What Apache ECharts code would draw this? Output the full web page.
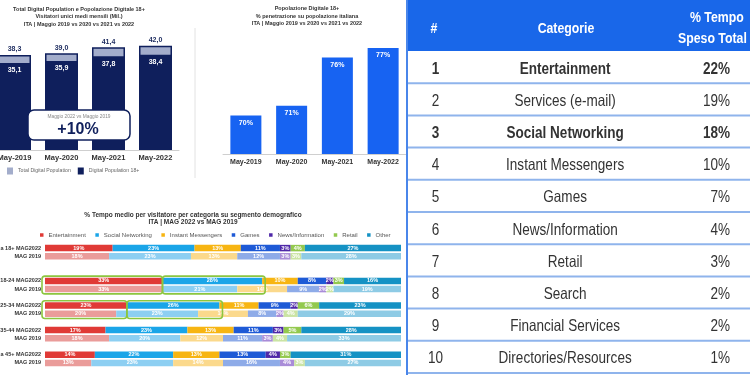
<!DOCTYPE html>
<html><head><meta charset="utf-8">
<script src="https://cdn.jsdelivr.net/npm/echarts@6/dist/echarts.min.js"></script>
<style>html,body{margin:0;padding:0;background:#fff}#c{width:750px;height:375px}</style>
</head><body><div id="c"></div>
<script>
// ---------- DATA ----------
const years = ['May-2019', 'May-2020', 'May-2021', 'May-2022'];
const totalDigital = [38.3, 39.0, 41.4, 42.0];
const digital18 = [35.1, 35.9, 37.8, 38.4];
const penetration = [70, 71, 76, 77];

const demoRowLabels = ['a 18+ MAG2022', 'MAG 2019', '18-24 MAG2022', 'MAG 2019', '25-34 MAG2022', 'MAG 2019', '35-44 MAG2022', 'MAG 2019', 'a 45+ MAG2022', 'MAG 2019'];
const catNames = ['Entertainment', 'Social Networking', 'Instant Messengers', 'Games', 'News/Information', 'Retail', 'Other'];
const entertainment = [19, 18, 33, 33, 23, 20, 17, 18, 14, 13];
const socialNetworking = [23, 23, 28, 21, 26, 23, 23, 20, 22, 23];
const instantMessengers = [13, 13, 10, 14, 11, 14, 13, 12, 13, 14];
const games = [11, 12, 8, 9, 9, 8, 11, 11, 13, 16];
const newsInfo = [3, 3, 2, 2, 2, 2, 3, 3, 4, 4];
const retail = [4, 3, 3, 2, 6, 4, 5, 4, 3, 3];
const other = [27, 28, 16, 19, 23, 29, 28, 33, 31, 27];

const tableHeaders = ['#', 'Categorie', '% Tempo', 'Speso Total'];
const tableRank = ['1', '2', '3', '4', '5', '6', '7', '8', '9', '10'];
const tableCategories = ['Entertainment', 'Services (e-mail)', 'Social Networking', 'Instant Messengers', 'Games', 'News/Information', 'Retail', 'Search', 'Financial Services', 'Directories/Resources'];
const tableShare = [22, 19, 18, 10, 7, 4, 3, 2, 2, 1];

// ---------- STYLE / LAYOUT ----------
const FONT = "'Liberation Sans', Arial, Helvetica, sans-serif";
const NAVY = '#0F1F5C';
const NARROW_SCALE = 0.82;
const darkCols = ['#E03A36', '#1AA5E8', '#F7B512', '#1E5AD6', '#4F28A8', '#93C94E', '#1592C4'];
const lightCols = ['#EA9C9A', '#8DCFF2', '#FBD98C', '#8EABE8', '#A98CD8', '#CBE4A4', '#8ECBE5'];
const segSeries = [entertainment, socialNetworking, instantMessengers, games, newsInfo, retail, other];
const slotPattern = [0, 1, null, null, 2, 3, null, 4, 5, null, 6, 7, null, 8, 9];
const boldCats = ['Entertainment', 'Social Networking'];
const highlightGroups = [2, 4];

const fmtComma = v => v.toFixed(1).replace('.', ',');

const chart = echarts.init(document.getElementById('c'), null, { renderer: 'canvas' });

const stackSeries = catNames.map((name, ci) => ({
  name, type: 'bar', stack: 'seg', xAxisIndex: 2, yAxisIndex: 2, barWidth: 6.5,
  itemStyle: { color: darkCols[ci] },
  label: { show: true, position: 'inside', formatter: p => p.value + '%', fontSize: 5.5, fontWeight: 'bold', color: '#fff', fontFamily: FONT },
  data: slotPattern.map(k => k === null ? '-' : (k % 2 === 1 ? { value: segSeries[ci][k], itemStyle: { color: lightCols[ci] } } : segSeries[ci][k]))
}));

function narrowText(x, y, text, align, bold, fill) {
  return { type: 'text', x, y, scaleX: NARROW_SCALE, z: 100,
    style: { text, align, verticalAlign: 'middle', fontSize: 16.5, fontFamily: FONT, fontWeight: bold ? 'bold' : 'normal', fill } };
}

function renderTableRow(params, api) {
  const i = api.value(1);
  const cs = params.coordSys;
  const yc = api.coord([0, i])[1];
  const rowH = cs.height / tableRank.length;
  const bold = boldCats.includes(tableCategories[i]);
  const ty = yc + 2;
  return {
    type: 'group', children: [
      { type: 'line', shape: { x1: cs.x, y1: yc + rowH / 2, x2: cs.x + cs.width, y2: yc + rowH / 2 }, style: { stroke: '#8FB4EC', lineWidth: 2 } },
      narrowText(cs.x + cs.width * 0.083, ty, tableRank[i], 'center', bold, '#333'),
      narrowText(cs.x + cs.width * 0.461, ty, tableCategories[i], 'center', bold, '#333'),
      narrowText(cs.x + cs.width * 0.942, ty, tableShare[i] + '%', 'right', bold, '#333')
    ]
  };
}

const option = {
  animation: false,
  backgroundColor: '#fff',
  textStyle: { fontFamily: FONT },
  title: [
    { text: 'Total Digital Population e Popolazione Digitale 18+\nVisitatori unici medi mensili (Mil.)\nITA | Maggio 2019 vs 2020 vs 2021 vs 2022', left: 79, top: 5.3, textAlign: 'center', padding: 0, textStyle: { fontSize: 5.5, lineHeight: 7.5, fontWeight: 'bold', color: '#333', fontFamily: FONT } },
    { text: 'Popolazione Digitale 18+\n% penetrazione su popolazione italiana\nITA | Maggio 2019 vs 2020 vs 2021 vs 2022', left: 307, top: 5.3, textAlign: 'center', padding: 0, textStyle: { fontSize: 5.5, lineHeight: 7.2, fontWeight: 'bold', color: '#333', fontFamily: FONT } },
    { text: '% Tempo medio per visitatore per categoria su segmento demografico\nITA | MAG 2022 vs MAG 2019', left: 193, top: 211.2, textAlign: 'center', padding: 0, textStyle: { fontSize: 6.5, lineHeight: 7.5, fontWeight: 'bold', color: '#333', fontFamily: FONT } }
  ],
  legend: [
    { data: ['Total Digital Population', 'Digital Population 18+'], left: 7, top: 167.5, itemWidth: 6, itemHeight: 7, itemGap: 7, icon: 'rect', padding: 0, itemStyle: { borderWidth: 0 }, textStyle: { fontSize: 5.2, color: '#666', fontFamily: FONT } },
    { data: catNames, left: 40, top: 232, itemWidth: 3.5, itemHeight: 3.5, itemGap: 9.5, icon: 'rect', padding: 0, textStyle: { fontSize: 6, color: '#555', fontFamily: FONT } }
  ],
  grid: [
    { left: -9, top: 26, width: 188, height: 124, outerBoundsMode: 'none', containLabel: false },
    { left: 223, top: 19, width: 183, height: 135, outerBoundsMode: 'none', containLabel: false },
    { left: 45, top: 244, width: 356, height: 123, outerBoundsMode: 'none', containLabel: false },
    { left: 407, top: 51, width: 343, height: 322, outerBoundsMode: 'none', containLabel: false }
  ],
  xAxis: [
    { type: 'category', gridIndex: 0, data: years, axisLine: { lineStyle: { color: '#cfcfcf' } }, axisTick: { show: false }, axisLabel: { fontSize: 7.5, fontWeight: 'bold', color: '#333', margin: 4 } },
    { type: 'category', gridIndex: 1, data: years, axisLine: { lineStyle: { color: '#cfcfcf' } }, axisTick: { show: false }, axisLabel: { fontSize: 7, fontWeight: 'bold', color: '#333', margin: 5 } },
    { type: 'value', gridIndex: 2, min: 0, max: 100, show: false },
    { type: 'value', gridIndex: 3, min: 0, max: 1, show: false }
  ],
  yAxis: [
    { type: 'value', gridIndex: 0, min: 0, max: 50, show: false },
    { type: 'value', gridIndex: 1, min: 66, max: 80, show: false },
    { type: 'category', gridIndex: 2, inverse: true, data: slotPattern.map((k, i) => 's' + i),
      axisLine: { show: false }, axisTick: { show: false },
      axisLabel: { interval: 0, fontSize: 5.5, fontWeight: 'bold', color: '#333', margin: 4, formatter: (v, i) => slotPattern[i] === null ? '' : demoRowLabels[slotPattern[i]] } },
    { type: 'category', gridIndex: 3, inverse: true, data: tableRank, show: false }
  ],
  series: [
    { name: 'Total Digital Population', type: 'bar', xAxisIndex: 0, yAxisIndex: 0, barWidth: 33, barGap: '-100%', data: totalDigital,
      itemStyle: { color: '#A3ADCB', borderColor: NAVY, borderWidth: 1.5 },
      label: { show: true, position: 'top', distance: 2, formatter: p => fmtComma(p.value), fontSize: 7, fontWeight: 'bold', color: '#1B2A5E' } },
    { name: 'Digital Population 18+', type: 'bar', xAxisIndex: 0, yAxisIndex: 0, barWidth: 33, barGap: '-100%', data: digital18,
      itemStyle: { color: NAVY },
      label: { show: true, position: 'insideTop', distance: 4, formatter: p => fmtComma(p.value), fontSize: 7, fontWeight: 'bold', color: '#fff' } },
    { name: 'Popolazione Digitale 18+', type: 'bar', xAxisIndex: 1, yAxisIndex: 1, barWidth: 31, data: penetration,
      itemStyle: { color: '#1763F2' },
      label: { show: true, position: 'insideTop', distance: 4, formatter: p => p.value + '%', fontSize: 7, fontWeight: 'bold', color: '#fff' } },
    ...stackSeries,
    { name: 'table', type: 'custom', xAxisIndex: 3, yAxisIndex: 3, renderItem: renderTableRow, data: tableRank.map((r, i) => [0, i]), encode: { x: 0, y: 1 } }
  ]
};
chart.setOption(option);

// ---------- annotations ----------
const growth = Math.round((totalDigital[3] / totalDigital[0] - 1) * 100);
const hdr = (x, y, text, align) => ({ type: 'text', x, y, scaleX: NARROW_SCALE, z: 101,
  style: { text, align, verticalAlign: 'middle', fontSize: 15, fontWeight: 'bold', fill: '#fff', fontFamily: FONT } });
const graphics = [
  { type: 'line', z: 100, shape: { x1: 195, y1: 28, x2: 195, y2: 178 }, style: { stroke: '#e2e2e2', lineWidth: 1 } },
  { type: 'rect', z: 100, shape: { x: 28, y: 110, width: 102, height: 30, r: 6 }, style: { fill: '#fff', stroke: NAVY, lineWidth: 1.5 } },
  { type: 'text', z: 101, x: 79, y: 116.5, style: { text: 'Maggio 2022 vs Maggio 2019', align: 'center', verticalAlign: 'middle', fontSize: 4.8, fill: '#888', fontFamily: FONT } },
  { type: 'text', z: 101, x: 78, y: 130, style: { text: '+' + growth + '%', align: 'center', verticalAlign: 'middle', fontSize: 16, fontWeight: 'bold', fill: NAVY, fontFamily: FONT } },
  { type: 'rect', z: 100, shape: { x: 407, y: 0, width: 343, height: 51 }, style: { fill: '#1967E9' } },
  { type: 'line', z: 100, shape: { x1: 407, y1: 0, x2: 407, y2: 375 }, style: { stroke: '#4A86EA', lineWidth: 2 } },
  hdr(434, 29, tableHeaders[0], 'center'),
  hdr(566, 29, tableHeaders[1], 'center'),
  hdr(690, 18, tableHeaders[2], 'left'),
  hdr(678, 39, tableHeaders[3], 'left')
];
// green highlight boxes computed from the stacked-bar scale
highlightGroups.forEach(r => {
  const s1 = slotPattern.indexOf(r), s2 = slotPattern.indexOf(r + 1);
  const yTop = chart.convertToPixel({ gridIndex: 2 }, [0, s1])[1] - 4.8;
  const yBot = chart.convertToPixel({ gridIndex: 2 }, [0, s2])[1] + 4.8;
  const x0 = chart.convertToPixel({ gridIndex: 2 }, [0, s1])[0];
  const x1 = chart.convertToPixel({ gridIndex: 2 }, [entertainment[r], s1])[0];
  const x2 = chart.convertToPixel({ gridIndex: 2 }, [entertainment[r] + socialNetworking[r], s1])[0];
  graphics.push({ type: 'rect', z: 100, shape: { x: x0 - 3, y: yTop, width: x1 - x0 + 3, height: yBot - yTop, r: 3 }, style: { fill: 'none', stroke: '#8CC63F', lineWidth: 1.6 } });
  graphics.push({ type: 'rect', z: 100, shape: { x: x1, y: yTop, width: x2 - x1 + 3, height: yBot - yTop, r: 3 }, style: { fill: 'none', stroke: '#8CC63F', lineWidth: 1.6 } });
});
chart.setOption({ graphic: graphics });
</script>
</body></html>
